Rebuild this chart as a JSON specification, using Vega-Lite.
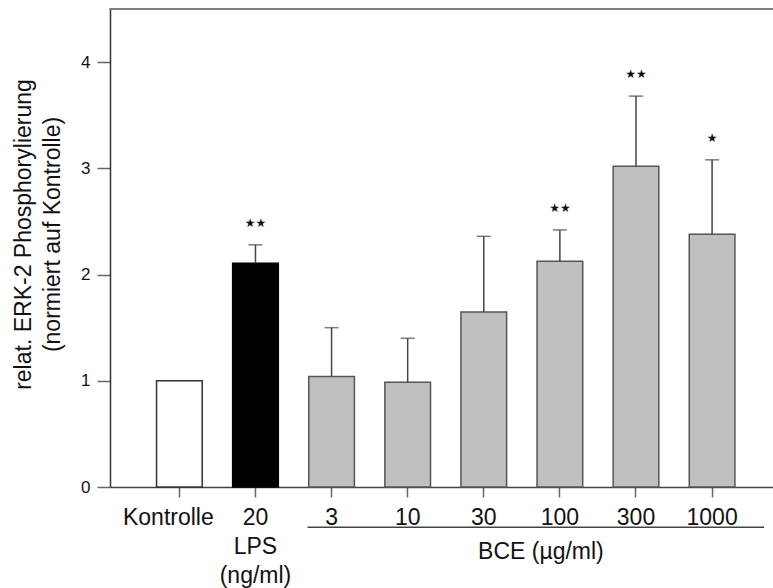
{
  "$schema": "https://vega.github.io/schema/vega-lite/v6.json",
  "width": 663,
  "height": 478,
  "autosize": {"type": "none"},
  "padding": {"left": 110, "top": 9, "right": 0, "bottom": 101},
  "background": "white",
  "config": {
    "view": {"stroke": null},
    "font": "Liberation Sans",
    "axis": {"labelFont": "Liberation Sans", "titleFont": "Liberation Sans", "labelColor": "#111", "titleColor": "#111", "titleFontWeight": "normal", "grid": false}
  },
  "data": {
    "values": [
      {"cat": "Kontrolle", "group": "ctrl", "value": 1.0, "err": null, "sig": ""},
      {"cat": "20", "group": "lps", "value": 2.107, "err": 2.28, "sig": "★★"},
      {"cat": "3", "group": "bce", "value": 1.04, "err": 1.50, "sig": ""},
      {"cat": "10", "group": "bce", "value": 0.985, "err": 1.40, "sig": ""},
      {"cat": "30", "group": "bce", "value": 1.647, "err": 2.36, "sig": ""},
      {"cat": "100", "group": "bce", "value": 2.126, "err": 2.42, "sig": "★★"},
      {"cat": "300", "group": "bce", "value": 3.02, "err": 3.68, "sig": "★★"},
      {"cat": "1000", "group": "bce", "value": 2.38, "err": 3.08, "sig": "★"}
    ]
  },
  "encoding": {
    "x": {
      "field": "cat",
      "type": "nominal",
      "sort": null,
      "scale": {"domain": ["Kontrolle", "20", "3", "10", "30", "100", "300", "1000"], "paddingInner": 0.4, "paddingOuter": 0.556, "align": 0.55},
      "axis": {
        "title": null,
        "labelAngle": 0,
        "labelFontSize": 23,
        "labelPadding": 9,
        "labelLineHeight": 29,
        "labelExpr": "datum.value == '20' ? ['20', 'LPS', '(ng/ml)'] : datum.value",
        "labelOffset": {"condition": {"test": "datum.value == 'Kontrolle'", "value": -11}, "value": 0},
        "tickSize": 10,
        "tickColor": "#666",
        "tickWidth": 1.5,
        "domainColor": "#444",
        "domainWidth": 1.5
      }
    }
  },
  "layer": [
    {
      "mark": {"type": "bar", "strokeWidth": 1.5},
      "encoding": {
        "y": {
          "field": "value",
          "type": "quantitative",
          "scale": {"domain": [0, 4.5], "nice": false, "zero": true},
          "axis": {
            "values": [0, 1, 2, 3, 4],
            "labelExpr": "format(datum.value, 'd')",
            "grid": false,
            "labelFontSize": 17,
            "labelPadding": 7,
            "tickSize": 13,
            "tickColor": "#666",
            "tickWidth": 1.5,
            "domainColor": "#333",
            "domainWidth": 1.5,
            "title": ["relat. ERK-2 Phosphorylierung", "(normiert  auf Kontrolle)"],
            "titleFontSize": 23,
            "titleLineHeight": 29,
            "titlePadding": 16,
            "titleY": 225
          }
        },
        "fill": {
          "field": "group",
          "type": "nominal",
          "scale": {"domain": ["ctrl", "lps", "bce"], "range": ["#ffffff", "#000000", "#c0c0c0"]},
          "legend": null
        },
        "stroke": {
          "field": "group",
          "type": "nominal",
          "scale": {"domain": ["ctrl", "lps", "bce"], "range": ["#333333", "#000000", "#555555"]},
          "legend": null
        }
      }
    },
    {
      "transform": [{"filter": "datum.err != null"}],
      "mark": {"type": "rule", "color": "#444", "strokeWidth": 1.5},
      "encoding": {
        "y": {"field": "value", "type": "quantitative"},
        "y2": {"field": "err"}
      }
    },
    {
      "transform": [{"filter": "datum.err != null"}],
      "mark": {"type": "tick", "color": "#444", "thickness": 1.5, "size": 14},
      "encoding": {
        "y": {"field": "err", "type": "quantitative"}
      }
    },
    {
      "transform": [{"filter": "datum.sig != ''"}],
      "mark": {"type": "text", "font": "DejaVu Sans", "fontSize": 12, "baseline": "middle", "dy": -22, "color": "#111"},
      "encoding": {
        "y": {"field": "err", "type": "quantitative"},
        "text": {"field": "sig"}
      }
    },
    {
      "transform": [{"filter": "datum.cat == 'Kontrolle'"}],
      "mark": {"type": "rule", "color": "#555", "strokeWidth": 1.5, "xOffset": -70, "x2Offset": 62},
      "encoding": {"x": {"datum": "Kontrolle"}, "x2": {"datum": "1000"}, "y": {"datum": 4.5}}
    },
    {
      "transform": [{"filter": "datum.cat == 'Kontrolle'"}],
      "mark": {"type": "rule", "color": "#444", "strokeWidth": 1.5, "xOffset": -24, "x2Offset": 52},
      "encoding": {"x": {"datum": "3"}, "x2": {"datum": "1000"}, "y": {"datum": -0.38}}
    },
    {
      "transform": [{"filter": "datum.cat == 'Kontrolle'"}],
      "mark": {"type": "text", "fontSize": 23, "baseline": "middle", "align": "center", "xOffset": -19, "color": "#111"},
      "encoding": {"x": {"datum": "100"}, "y": {"datum": -0.61}, "text": {"value": "BCE (µg/ml)"}}
    }
  ]
}
